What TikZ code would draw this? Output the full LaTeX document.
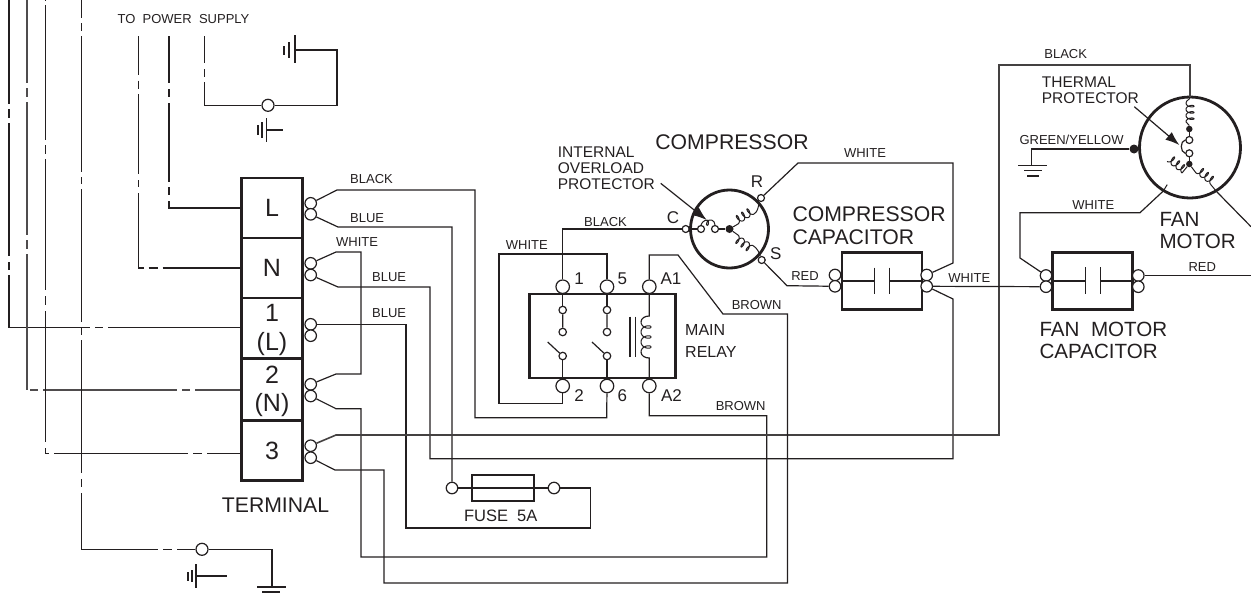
\documentclass[tikz,border=0pt]{standalone}
\usepackage{fontspec}
\setmainfont{Liberation Sans}
\usetikzlibrary{arrows.meta}
\definecolor{ink}{HTML}{231F20}
\tikzset{
  wirethin/.style={draw=ink,line width=1.2pt,line join=miter},
  boxthick/.style={draw=ink,line width=2.8pt,rectangle,inner sep=0pt,text=ink},
  termring/.style={circle,draw=ink,fill=white,line width=1.2pt,inner sep=0pt,minimum size=11.5pt},
  relayring/.style={circle,draw=ink,fill=white,line width=1.2pt,inner sep=0pt,minimum size=13.5pt},
  smallring/.style={circle,draw=ink,fill=white,line width=1.2pt,inner sep=0pt,minimum size=7.5pt},
  blackdot/.style={circle,fill=ink,inner sep=0pt,minimum size=#1},
  motorcircle/.style={circle,draw=ink,line width=2.8pt,inner sep=0pt,minimum size=#1},
  lblsm/.style={inner sep=0pt,text=ink,font=\fontsize{13}{13}\selectfont},
  lblmd/.style={inner sep=0pt,text=ink,align=left,font=\fontsize{15.5}{16}\selectfont},
  lblrel/.style={inner sep=0pt,text=ink,font=\fontsize{17}{17}\selectfont},
  lbllg/.style={inner sep=0pt,text=ink,align=left,font=\fontsize{21.2}{22.4}\selectfont},
  lblfan/.style={inner sep=0pt,text=ink,align=left,font=\fontsize{20.6}{22.4}\selectfont},
  tlabel/.style={inner sep=0pt,text=ink,font=\fontsize{25}{28.5}\selectfont,align=center},
  pointer/.style={draw=ink,line width=1.2pt,-{Latex[length=14pt,width=10pt]}},
}
% coil: start x, start y, screen angle, turns, pitch factor, depth, side
\newcommand{\mycoil}[7]{%
  \draw[wirethin,line width=1pt,shift={(#1,#2)},rotate=#3]
    plot[smooth,samples=85,domain=180:180+360*#4,variable=\t]
      ({#5*(\t-180)/57.2958-2.1*#5*sin(\t)},{#7*#6*(1+cos(\t))});}
\begin{document}
\begin{tikzpicture}[x=1pt,y=-1pt]
\useasboundingbox (0,0) rectangle (1251,595);

% ---- terminal block
\node[boxthick,tlabel,minimum width=60.5pt,minimum height=60pt] (tbL) at (272,208) {L};
\node[boxthick,tlabel,minimum width=60.5pt,minimum height=60pt] (tbN) at (272,268) {N};
\node[boxthick,minimum width=60.5pt,minimum height=60pt] (tb1) at (272,328) {};
\node[boxthick,minimum width=60.5pt,minimum height=61pt] (tb2) at (272,389.5) {};
\node[boxthick,tlabel,minimum width=60.5pt,minimum height=60.5pt] (tb3) at (272,450.5) {3};
\node[tlabel] (tb1t) at (272,330) {1\\(L)};
\node[tlabel] (tb2t) at (272,391.5) {2\\(N)};

\foreach \n/\y in {tL1/203.3,tL2/214.3,tN1/263.3,tN2/275,t11/324.3,t12/335.7,t21/384.3,t22/396,t31/445.7,t32/457.7}
  \node[termring] (\n) at (310.7,\y) {};

% ---- fuse
\node[boxthick,minimum width=62pt,minimum height=26pt] (fuse) at (503,488) {};
\node[termring] (fuL) at (452,488) {};
\node[termring] (fuR) at (554,488) {};
\draw[wirethin] (fuL) -- (fuR);

% ---- relay
\node[boxthick,minimum width=146pt,minimum height=84pt] (relay) at (602.8,336) {};
\node[relayring] (r1) at (562.7,286.7) {};
\node[relayring] (r5) at (607,286.7) {};
\node[relayring] (rA1) at (649.3,286.7) {};
\node[relayring] (r2) at (562.7,386) {};
\node[relayring] (r6) at (607,386) {};
\node[relayring] (rA2) at (649.3,386) {};
\foreach \n/\x in {a/562.7,b/607}{
  \node[smallring] (s\n1) at (\x,310) {};
  \node[smallring] (s\n2) at (\x,332) {};
  \node[smallring] (s\n3) at (\x,356) {};
  \coordinate (lev\n) at (\x-15,342);
  \draw[wirethin] (s\n1) -- (s\n2) (s\n3) -- (lev\n);
}
\draw[wirethin] (r1) -- (sa1) (r5) -- (sb1) (sa3) -- (r2) (sb3) -- (r6);
\draw[wirethin] (rA1) -- (649.3,316) to[out=180,in=90] (641,322);
\mycoil{641}{322}{-90}{3}{1.59}{5}{-1}
\draw[wirethin] (641,352) to[out=-90,in=180] (649.3,358) -- (rA2);
\draw[wirethin] (630,316.7) -- (630,357) (635.7,316.7) -- (635.7,357);

% ---- compressor
\node[motorcircle=78pt] (comp) at (729.5,229) {};
\node[blackdot=8pt] (cdot) at (729.5,229) {};
\node[smallring,minimum size=7pt] (cC) at (685.7,229) {};
\node[smallring,minimum size=7pt] (ci1) at (701,229) {};
\node[smallring,minimum size=7pt] (ci2) at (715,229) {};
\node[smallring,minimum size=7pt] (cR) at (761,198) {};
\node[smallring,minimum size=7pt] (cS) at (761.7,260) {};
\draw[wirethin] (cC) -- (ci1) (ci2) -- (cdot);
\draw[wirethin,line width=1pt] (ci1.north) .. controls (702,221) and (708,218) .. (708.5,222)
   .. controls (709,227) and (705,226) .. (707,222)
   .. controls (709,218) and (715,220) .. (ci2.north);
\draw[wirethin,line width=1pt] (cdot) -- (738,224);
\mycoil{738}{224}{32}{3}{1}{4}{-1}
\draw[wirethin,line width=1pt] (754,214) to[out=32,in=250] (cR);
\draw[wirethin,line width=1pt] (cdot) -- (738,235);
\mycoil{738}{235}{-35}{3}{1}{4}{1}
\draw[wirethin,line width=1pt] (753.4,245.8) to[out=-35,in=110] (cS);
\coordinate (ovlA) at (660.7,183.3);
\coordinate (ovlB) at (706.7,220);
\draw[pointer] (ovlA) -- (ovlB);

% ---- compressor capacitor
\node[boxthick,minimum width=80pt,minimum height=56.5pt] (ccap) at (882,281) {};
\node[termring] (ccL1) at (835,275) {};
\node[termring] (ccL2) at (835,286.3) {};
\node[termring] (ccR1) at (926.7,275) {};
\node[termring] (ccR2) at (926.7,286.3) {};
\draw[wirethin] (ccap.west) -- (874.3,281) (889.3,281) -- (ccap.east);
\draw[wirethin] (874.3,267.7) -- (874.3,294) (889.3,267.7) -- (889.3,294);

% ---- fan motor capacitor
\node[boxthick,minimum width=80pt,minimum height=56.5pt] (fcap) at (1092.8,281) {};
\node[termring] (fcL1) at (1046,275.5) {};
\node[termring] (fcL2) at (1046,286.7) {};
\node[termring] (fcR1) at (1138.3,275.5) {};
\node[termring] (fcR2) at (1138.3,286.7) {};
\draw[wirethin] (fcap.west) -- (1085.7,281) (1100.7,281) -- (fcap.east);
\draw[wirethin] (1085.7,267) -- (1085.7,294) (1100.7,267) -- (1100.7,294);

% ---- fan motor
\node[motorcircle=101pt] (fan) at (1190,147.5) {};
\node[blackdot=6.5pt] (fd1) at (1189.3,129) {};
\node[blackdot=6.5pt] (fd2) at (1189.3,164) {};
\node[smallring,minimum size=7pt] (fo1) at (1189.3,140) {};
\node[smallring,minimum size=7pt] (fo2) at (1189.3,153.3) {};
\node[blackdot=9pt] (fground) at (1134,149) {};
\draw[wirethin] (fd1) -- (fo1) (fo2) -- (fd2);
\draw[wirethin] (fo1.west) .. controls (1180,141) and (1180,152) .. (fo2.west);
\draw[wirethin,line width=1pt] (1190,97) to[out=-90,in=90] (1186,103);
\mycoil{1186}{103}{-90}{3}{1}{4}{-1}
\draw[wirethin,line width=1pt] (1186,121.85) to[out=-90,in=90] (fd1);
\draw[wirethin,line width=1pt] (fd2) -- (1182,173);
\mycoil{1182}{173}{142}{3}{1}{4}{1}
\draw[wirethin,line width=1pt] (1167.2,184.6) -- (1163.3,191);
\draw[wirethin,line width=1pt] (fd2) -- (1196,173);
\mycoil{1196}{173}{-38}{3}{1}{4}{-1}
\draw[wirethin,line width=1pt] (1210.8,184.6) -- (1216.7,191.7);
\coordinate (thA) at (1134.3,106.7);
\coordinate (thB) at (1179.3,145);
\draw[pointer] (thA) -- (thB);

% ---- ground symbols
\draw[wirethin] (295,35) -- (295,63) (289,42) -- (289,58) (284,46) -- (284,55);
\draw[wirethin] (266.7,118) -- (266.7,142) (262,122) -- (262,138) (258,125) -- (258,135) (266.7,130) -- (283,130);
\draw[wirethin] (196,564) -- (196,588) (192,570) -- (192,582) (188,572) -- (188,581) (196,576) -- (227,576);
\draw[wirethin] (257,587) -- (286,587) (262,592) -- (280,592);
\draw[wirethin] (1018,165.7) -- (1047,165.7) (1024,170.7) -- (1042,170.7) (1027,176) -- (1039,176);

\node[termring,minimum size=12pt] (gt) at (268,105.3) {};
\node[termring,minimum size=12pt] (gb) at (202,549.3) {};

% ---- power supply wires (chain dashed)
\draw[wirethin,dash pattern=on 104pt off 5pt on 9pt off 5pt on 133pt off 6pt on 8pt off 5pt on 133.3pt off 5pt on 8pt off 5pt on 300pt]
  (9,0) -- (9,327.3) -- (tb1.west |- 0,327.3);
\draw[wirethin,line width=1.6pt,draw=ink!80,dash pattern=on 83pt off 5pt on 9pt off 5pt on 133pt off 5pt on 9pt off 5pt on 136pt off 3pt on 8pt off 5pt on 134pt off 5pt on 8pt off 5pt on 200pt]
  (27,0) -- (27,390) -- (tb2.west |- 0,390);
\draw[wirethin,dash pattern=on 1pt off 4pt on 135pt off 5pt on 9pt off 5pt on 131pt off 6pt on 9pt off 6pt on 130.7pt off 6.3pt on 9pt off 5pt on 134pt off 5pt on 9pt off 5pt on 200pt]
  (45.7,0) -- (45.7,453.7) -- (tb3.west |- 0,453.7);
\draw[wirethin,dash pattern=on 18pt off 5pt on 8pt off 5pt on 136pt off 5pt on 7pt off 5pt on 133pt off 5pt on 8pt off 5pt on 133pt off 6pt on 8pt off 6pt on 132.3pt off 5.3pt on 9pt off 5pt on 300pt]
  (81.7,0) -- (81.7,549.3) -- (gb);
\draw[wirethin,dash pattern=on 39pt off 5.7pt on 8.3pt off 5pt on 80pt off 6pt on 7pt off 6pt on 80pt off 5pt on 9pt off 5pt on 300pt]
  (138.7,36) -- (138.7,268) -- (tbN.west);
\draw[wirethin,dash pattern=on 47pt off 6pt on 8pt off 6pt on 79pt off 5pt on 8pt off 6pt on 300pt]
  (169,36) -- (169,208) -- (tbL.west);
\draw[wirethin,dash pattern=on 27pt off 6pt on 8pt off 5pt on 300pt]
  (204.7,36) -- (204.7,105.3) -- (gt);

% ---- ground leads
\draw[wirethin] (gt) -- (337,105.3) -- (337,50) -- (295,50);
\draw[wirethin] (gb) -- (272,549.3) -- (272,587);
\draw[wirethin] (fground) -- (1031.7,149) -- (1031.7,165.7);

% ---- wiring
\draw[wirethin] (tL1) -- (337,190) -- (475,190) -- (475,417.7) -- (606.7,417.7) -- (r6);
\draw[wirethin] (tL2) -- (338,227) -- (452,227) -- (fuL);
\draw[wirethin] (tN1) -- (336,252) -- (361,252) -- (361,374) -- (336,374) -- (t21);
\draw[wirethin] (tN2) -- (338,287) -- (430,287) -- (430,458.7) -- (953,458.7) -- (953,299) -- (ccR2);
\draw[wirethin] (t11) -- (406,324.3) -- (406,528) -- (590.5,528) -- (590.5,488) -- (fuR);
\draw[wirethin] (t22) -- (336,408.7) -- (361,408.7) -- (361,557) -- (766.7,557) -- (766.7,415.7) -- (649.3,415.7) -- (rA2);
\draw[wirethin,line width=1.6pt,draw=ink!85] (t31) -- (336,435) -- (999,435) -- (999,65) -- (1190,65) -- (1190,97);
\draw[wirethin] (t32) -- (335,470) -- (384,470) -- (384,583) -- (787.5,583) -- (787.5,314) -- (723,314) -- (678,255) -- (649.3,255) -- (rA1);
\draw[wirethin] (cC) -- (562.7,229) -- (r1);
\draw[wirethin] (r5) -- (607,254) -- (499,254) -- (499,403.3) -- (562.7,403.3) -- (r2);
\draw[wirethin] (cR) -- (798,163) -- (953,163) -- (953,263) -- (ccR1);
\draw[wirethin] (cS) -- (787,285.7) -- (ccL2);
\draw[wirethin] (ccR2) -- (fcL2);
\draw[wirethin] (fcL1) -- (1020,258) -- (1020,212.7) -- (1140,212.7) -- (1163.3,191);
\draw[wirethin] (1216.7,191.7) -- (1251,226.7);
\draw[wirethin] (fcR1) -- (1251,275.5);

% ---- text
\node[lblsm] (tps) at (183.5,19.5) {TO\ \ POWER\ \ SUPPLY};
\node[lblsm,anchor=west] (l1) at (350,179) {BLACK};
\node[lblsm,anchor=west] (l2) at (350,218) {BLUE};
\node[lblsm,anchor=west] (l3) at (336,242) {WHITE};
\node[lblsm,anchor=west] (l4) at (372,277) {BLUE};
\node[lblsm,anchor=west] (l5) at (372,313) {BLUE};
\node[lbllg] (lterm) at (275.5,505) {TERMINAL};
\node[lblmd,anchor=west] (lovl) at (557.7,168) {INTERNAL\\OVERLOAD\\PROTECTOR};
\node[lbllg] (lcomp) at (732,141.7) {COMPRESSOR};
\node[lblrel] (lC) at (673,217.7) {C};
\node[lblrel] (lR) at (757,182) {R};
\node[lblrel] (lS) at (775.7,254) {S};
\node[lblsm,anchor=west] (l6) at (584,221.7) {BLACK};
\node[lblsm,anchor=west] (l7) at (505.7,245) {WHITE};
\node[lblrel] (n1) at (579,279) {1};
\node[lblrel] (n5) at (622.3,279) {5};
\node[lblrel] (nA1) at (671,279) {A1};
\node[lblrel] (n2) at (579,396) {2};
\node[lblrel] (n6) at (622.3,396) {6};
\node[lblrel] (nA2) at (671.5,396) {A2};
\node[lblsm] (l8) at (756.7,305) {BROWN};
\node[lblsm] (l9) at (740.7,406) {BROWN};
\node[lblmd,anchor=west,font=\fontsize{16}{21.7}\selectfont] (lrelay) at (685,341) {MAIN\\RELAY};
\node[lblsm] (l10) at (865,152.7) {WHITE};
\node[lbllg,anchor=west] (lcc) at (792.3,225.5) {COMPRESSOR\\CAPACITOR};
\node[lblsm] (l11) at (805,276) {RED};
\node[lblsm] (l12) at (969.3,278.3) {WHITE};
\node[lblsm] (l13) at (1065.7,54) {BLACK};
\node[lblmd,anchor=west] (lth) at (1041.7,90.5) {THERMAL\\PROTECTOR};
\node[lblsm,anchor=west] (l14) at (1019.3,140) {GREEN/YELLOW};
\node[lblsm] (l15) at (1093.3,205) {WHITE};
\node[lblfan,anchor=west] (lfm) at (1159.3,230.3) {FAN\\MOTOR};
\node[lblsm] (l16) at (1202.3,267.3) {RED};
\node[lblfan,anchor=west] (lfc) at (1039.3,340.5) {FAN\ \ MOTOR\\CAPACITOR};
\node[lblsm,font=\fontsize{16.5}{16.5}\selectfont] (lfuse) at (500.7,515.7) {FUSE\ \ 5A};
\end{tikzpicture}
\end{document}
